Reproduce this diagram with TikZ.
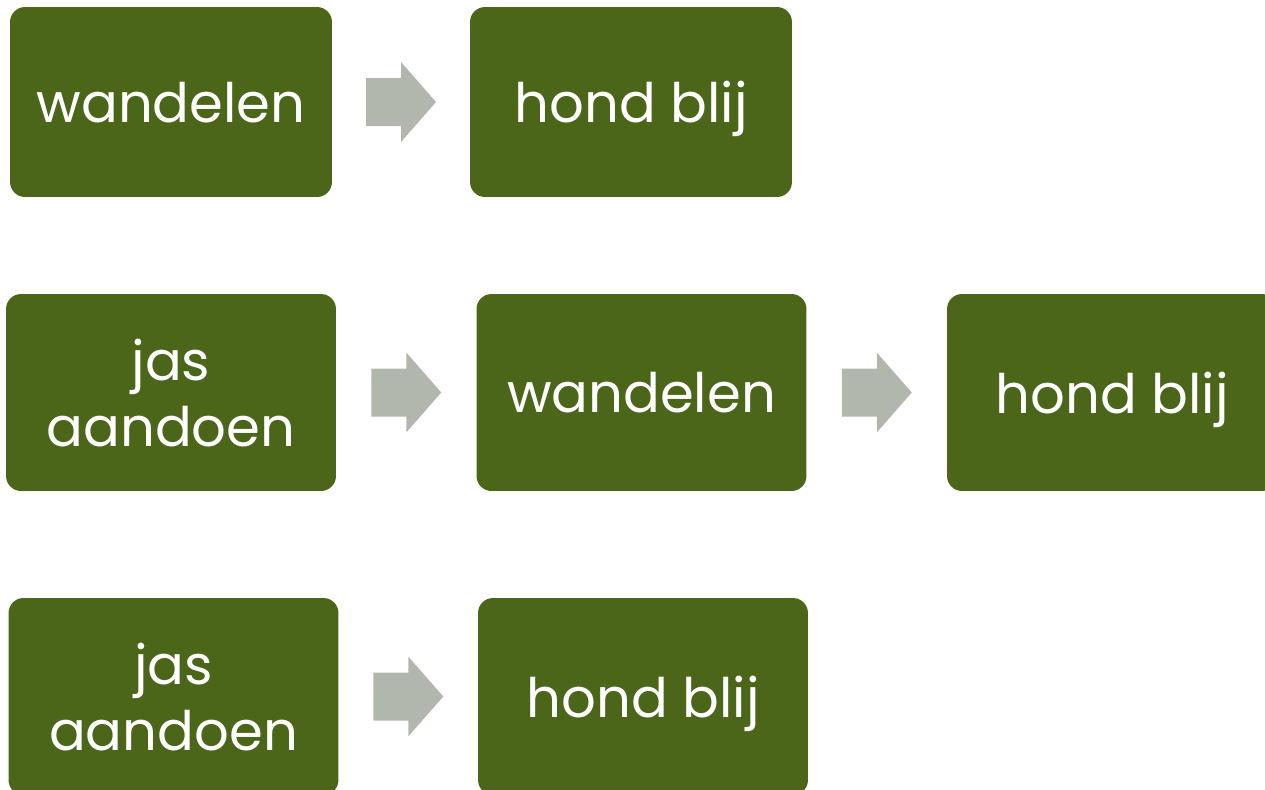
\documentclass[tikz,border=0pt]{standalone}
\usepackage{fontspec}
\setmainfont{Poppins}
\definecolor{boxgreen}{HTML}{4C6619}
\definecolor{arrowgray}{HTML}{B2B7AD}
\tikzset{
  stepbox/.style={rectangle,rounded corners=0.3cm,fill=boxgreen,text=white,align=center,
    inner sep=0pt,text depth=0pt,font=\fontsize{31}{37.5}\selectfont,minimum width=6.6cm,minimum height=3.94cm},
  smallbox/.style={stepbox,minimum width=6.44cm,minimum height=3.8cm},
  blockarrow/.pic={\fill[arrowgray] (-35,-24) -- (0,-24) -- (0,-40) -- (35,0) -- (0,40) -- (0,24) -- (-35,24) -- cycle;}
}
\begin{document}
\begin{tikzpicture}[x=0.02cm,y=-0.02cm]
  \useasboundingbox (0,0) rectangle (1265,789);
  \clip (0,0) rectangle (1265,789);
  % first row
  \node[smallbox] (walk1) at (171,102) {wandelen};
  \node[smallbox] (dog1) at (631,102) {hond blij};
  % second row
  \node[stepbox] (coat2) at (171,392.5) {jas\\aandoen};
  \node[stepbox] (walk2) at (641.5,392.5) {wandelen};
  \node[stepbox] (dog2) at (1112,392.5) {hond blij};
  % third row
  \node[stepbox] (coat3) at (173.5,696.5) {jas\\aandoen};
  \node[stepbox] (dog3) at (643,696.5) {hond blij};
  \path (walk1) -- (dog1) pic[pos=.5] {blockarrow};
  \path (coat2) -- (walk2) pic[pos=.5] {blockarrow};
  \path (walk2) -- (dog2) pic[pos=.5] {blockarrow};
  \path (coat3) -- (dog3) pic[pos=.5] {blockarrow};
\end{tikzpicture}
\end{document}
